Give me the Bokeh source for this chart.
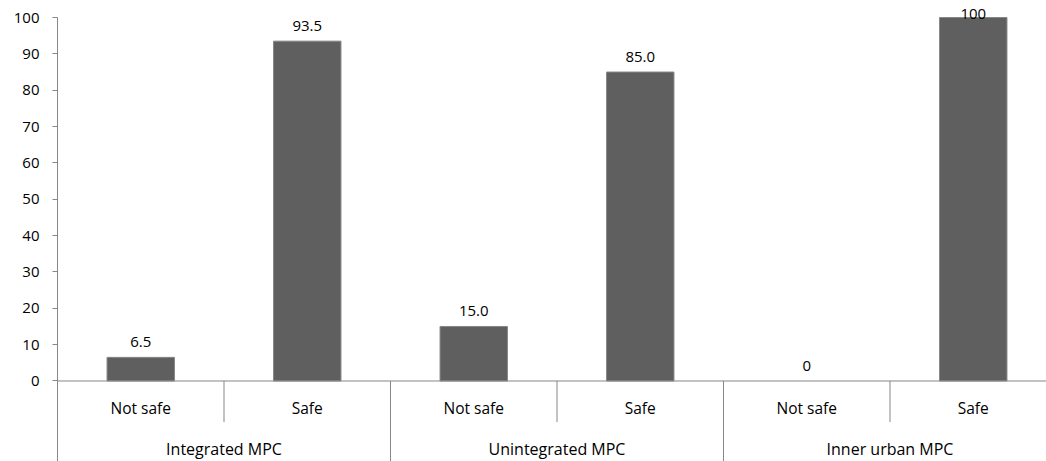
import numpy as np
from bokeh.plotting import figure
from bokeh.models import Range1d, FixedTicker, Span, ColumnDataSource
from bokeh.core.properties import value
from bokeh.embed import file_html
from bokeh.resources import INLINE

# ---- data ----
groups = ["Integrated MPC", "Unintegrated MPC", "Inner urban MPC"]
subcategories = ["Not safe", "Safe"]
values = [6.5, 93.5, 15.0, 85.0, 0.0, 100.0]
value_labels = ["6.5", "93.5", "15.0", "85.0", "0", "100"]
y_ticks = [0, 10, 20, 30, 40, 50, 60, 70, 80, 90, 100]

FONT = "Open Sans"
AXIS_COL = "#878787"
BAR_COL = "#5f5f5f"

n_sub = len(subcategories)
n = len(groups) * n_sub
idx = np.arange(n)
centers = idx + 0.5

Y_BOTTOM = -22.15
p = figure(width=1046, height=461, output_backend="svg", toolbar_location=None,
           x_range=Range1d(0, (1046 - 57) / 166.5), y_range=Range1d(Y_BOTTOM, 104.68),
           x_axis_location=None, min_border_left=57, min_border_right=0,
           min_border_top=0, min_border_bottom=0)
p.outline_line_color = None
p.grid.visible = False

ya = p.yaxis[0]
ya.ticker = FixedTicker(ticks=y_ticks)
ya.bounds = (Y_BOTTOM, 100)
ya.axis_line_color = AXIS_COL
ya.major_tick_line_color = AXIS_COL
ya.major_tick_in = 0
ya.major_tick_out = 5
ya.minor_tick_line_color = None
ya.major_label_standoff = 13
ya.major_label_text_font = FONT
ya.major_label_text_font_size = "15px"
ya.major_label_text_color = "#000000"

# bars
vals = np.array(values)
src = ColumnDataSource(dict(x=centers, top=vals, lab=value_labels,
                            la=np.where(vals > 0, 1.0, 0.0),
                            ly=np.minimum(vals + 4.26, 101.0)))
p.vbar(x="x", top="top", bottom=0, width=0.405, source=src,
       fill_color=BAR_COL, line_color=AXIS_COL, line_alpha="la", line_width=1)

# value labels
p.text(x="x", y="ly", text="lab", source=src, text_align="center",
       text_baseline="middle", text_font=value(FONT), text_font_size="15px",
       text_color="#000000")

# horizontal category axis line
p.add_layout(Span(location=0, dimension="width", line_color=AXIS_COL, line_width=1))

# separators
bounds = np.arange(1, n + 1)
short = [b for b in bounds if b % n_sub != 0]
long_ = [b for b in bounds if b % n_sub == 0]
p.segment(x0=short, x1=short, y0=[0] * len(short), y1=[-11.3] * len(short),
          line_color=AXIS_COL, line_width=1)
p.segment(x0=long_, x1=long_, y0=[0] * len(long_), y1=[Y_BOTTOM] * len(long_),
          line_color=AXIS_COL, line_width=1)

# category labels
sub_labels = subcategories * len(groups)
p.text(x=centers, y=[-7.48] * n, text=sub_labels, text_align="center",
       text_baseline="middle", text_font=value(FONT), text_font_size="15.5px",
       text_color="#000000")
group_centers = np.arange(len(groups)) * n_sub + n_sub / 2
p.text(x=group_centers, y=[-18.6] * len(groups), text=groups, text_align="center",
       text_baseline="middle", text_font=value(FONT), text_font_size="16px",
       text_color="#000000")

open("out.html", "w").write(file_html(p, INLINE))
